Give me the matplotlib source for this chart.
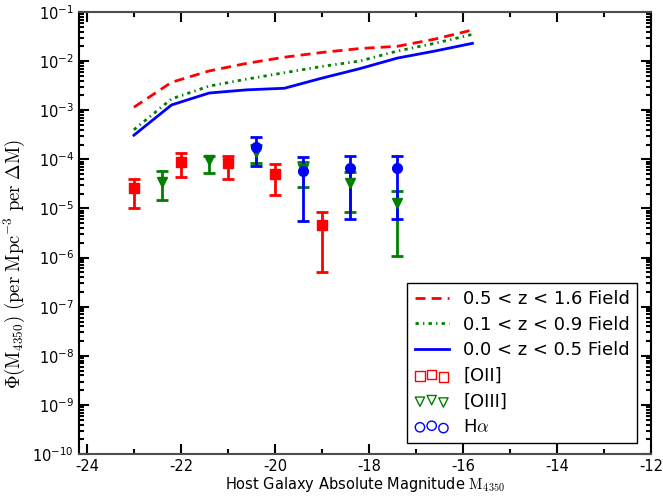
import matplotlib
matplotlib.use("Agg")
import matplotlib.pyplot as plt
import numpy as np

plt.rcParams['mathtext.fontset'] = 'cm'
plt.rcParams['font.family'] = ['DejaVu Sans']

# Field luminosity functions
mag_field = [-23.0, -22.2, -21.4, -20.6, -19.8, -19.0, -18.2, -17.4, -16.6, -15.8]
phi_z05_16 = [1.15e-3, 3.7e-3, 6.3e-3, 9.0e-3, 1.2e-2, 1.5e-2, 1.8e-2, 2.0e-2, 2.8e-2, 4.3e-2]
phi_z01_09 = [4.0e-4, 1.7e-3, 3.1e-3, 4.3e-3, 5.8e-3, 7.8e-3, 1.0e-2, 1.6e-2, 2.3e-2, 3.5e-2]
phi_z00_05 = [3.1e-4, 1.28e-3, 2.24e-3, 2.6e-3, 2.8e-3, 4.5e-3, 7.0e-3, 1.15e-2, 1.6e-2, 2.3e-2]

# [OII]
mag_oii = [-23.0, -22.0, -21.0, -20.0, -19.0]
phi_oii = [2.6e-5, 8.8e-5, 8.4e-5, 5.0e-5, 4.6e-6]
hi_oii = [4.0e-5, 1.36e-4, 1.17e-4, 8.1e-5, 8.5e-6]
lo_oii = [1.03e-5, 4.4e-5, 4.0e-5, 1.9e-5, 5.0e-7]

# [OIII]
mag_oiii = [-22.4, -21.4, -20.4, -19.4, -18.4, -17.4]
phi_oiii = [3.5e-5, 9.8e-5, 1.4e-4, 6.5e-5, 3.3e-5, 1.3e-5]
hi_oiii = [5.7e-5, 1.18e-4, 2.0e-4, 8.8e-5, 5.4e-5, 2.26e-5]
lo_oiii = [1.5e-5, 5.2e-5, 8.5e-5, 2.8e-5, 8.5e-6, 1.1e-6]

# Halpha
mag_ha = [-20.4, -19.4, -18.4, -17.4]
phi_ha = [1.8e-4, 5.9e-5, 6.6e-5, 6.6e-5]
hi_ha = [2.9e-4, 1.12e-4, 1.18e-4, 1.18e-4]
lo_ha = [7.2e-5, 5.6e-6, 6.0e-6, 6.2e-6]

fig = plt.figure(figsize=(6.63, 4.99), dpi=100)
ax = fig.add_axes([0.119, 0.090, 0.863, 0.886])

ax.plot(mag_field, phi_z05_16, color='red', lw=2, linestyle=(0, (3.6, 2.2)),
        label='0.5 < z < 1.6 Field')
ax.plot(mag_field, phi_z01_09, color='green', lw=2, linestyle=(0, (1.2, 1.5, 0.5, 1.5)),
        label='0.1 < z < 0.9 Field')
ax.plot(mag_field, phi_z00_05, color='blue', lw=2, linestyle='-',
        label='0.0 < z < 0.5 Field')

def eb(mag, phi, lo, hi, color, marker, ms):
    phi = np.array(phi); lo = np.array(lo); hi = np.array(hi)
    ax.errorbar(mag, phi, yerr=[phi - lo, hi - phi], fmt=marker, color=color,
                mfc=color, mec=color, ms=ms, elinewidth=2, capsize=4.5, capthick=2)

eb(mag_oii, phi_oii, lo_oii, hi_oii, 'red', 's', 6.5)
eb(mag_oiii, phi_oiii, lo_oiii, hi_oiii, 'green', 'v', 7)
eb(mag_ha, phi_ha, lo_ha, hi_ha, 'blue', 'o', 7)

ax.scatter([], [], marker='s', facecolors='none', edgecolors='red', s=45, label='[OII]')
ax.scatter([], [], marker='v', facecolors='none', edgecolors='green', s=45, label='[OIII]')
ax.scatter([], [], marker='o', facecolors='none', edgecolors='blue', s=45, label=r'H$\alpha$')

ax.set_yscale('log')
ax.set_xlim(-24.17, -12)
ax.set_ylim(1e-10, 1e-1)
ax.set_xticks([-24, -22, -20, -18, -16, -14, -12])
ax.set_xticklabels(['-24', '-22', '-20', '-18', '-16', '-14', '-12'])
ax.set_xticks(np.arange(-23, -12, 2), minor=True)
ax.xaxis.set_minor_formatter(matplotlib.ticker.NullFormatter())
ax.yaxis.set_major_locator(matplotlib.ticker.LogLocator(base=10, numticks=20))
ax.yaxis.set_minor_locator(matplotlib.ticker.LogLocator(base=10, subs=np.arange(2, 10), numticks=20))
ax.yaxis.set_minor_formatter(matplotlib.ticker.NullFormatter())

ax.tick_params(which='both', direction='in', top=True, right=True, labelsize=10.5)
ax.tick_params(which='major', length=7, width=1.5)
ax.tick_params(which='minor', length=3.5, width=1.5)
for s in ['left', 'right']:
    ax.spines[s].set_linewidth(1.5)
for s in ['top', 'bottom']:
    ax.spines[s].set_linewidth(1.5)
    ax.spines[s].set_color('0.3')

ax.set_xlabel(r'Host Galaxy Absolute Magnitude $\mathrm{M}_{4350}$', fontsize=10.5, labelpad=1)
ax.set_ylabel(r'$\Phi(\mathrm{M}_{4350})\ (\mathrm{per\ Mpc^{-3}\ per\ \Delta M})$',
              fontsize=13.5)
ax.yaxis.set_label_coords(-0.09, 0.43)

leg = ax.legend(loc='lower right', fontsize=13, scatterpoints=3, frameon=True,
                fancybox=False, edgecolor='black', framealpha=1, handlelength=1.9,
                handletextpad=0.8, borderaxespad=0.6, labelspacing=0.42,
                bbox_to_anchor=(0.995, 0.0))
leg.get_frame().set_linewidth(1.0)

fig.savefig('out.png', dpi=100)
